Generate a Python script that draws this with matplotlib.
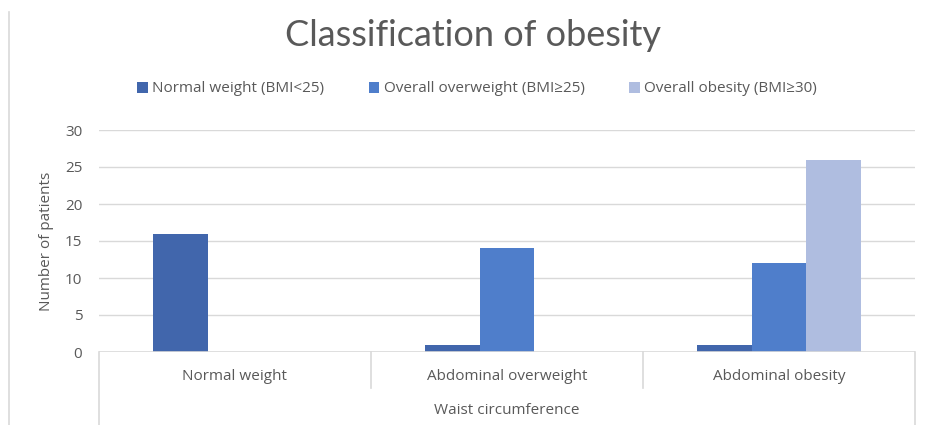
import numpy as np
import matplotlib.pyplot as plt

categories = ["Normal weight", "Abdominal overweight", "Abdominal obesity"]
series_names = ["Normal weight (BMI<25)", "Overall overweight (BMI\u226525)", "Overall obesity (BMI\u226530)"]
normal_bmi = [16, 1, 1]
overweight_bmi = [0, 14, 12]
obesity_bmi = [0, 0, 26]
colors = ["#4166AC", "#4F7ECB", "#AFBDE0"]

W, H = 929, 425
fig = plt.figure(figsize=(W / 100, H / 100), dpi=100)
plt.rcParams["font.family"] = ["Open Sans", "DejaVu Sans"]

x0, x1, y0, y1 = 99, 915, 352, 130
ax = fig.add_axes([x0 / W, 1 - y0 / H, (x1 - x0) / W, (y0 - y1) / H])

x = np.arange(len(categories))
width = 0.2
values = [normal_bmi, overweight_bmi, obesity_bmi]
for i, (vals, name, c) in enumerate(zip(values, series_names, colors)):
    ax.bar(x + (i - 1) * width, vals, width, color=c, label=name, zorder=3)

ax.set_xlim(-0.5, 2.5)
ax.set_ylim(0, 30)
ax.set_yticks(range(0, 31, 5))
ax.set_xticks([])
for s in ax.spines.values():
    s.set_visible(False)
ax.tick_params(axis="y", length=0, pad=12, labelsize=11, labelcolor="#595959")
for v in range(5, 31, 5):
    ax.axhline(v, color="#D9D9D9", lw=1, zorder=1)
ax.axhline(0, color="#D9D9D9", lw=1.2, zorder=4)
ax.set_ylabel("Number of patients", fontsize=11, color="#595959", labelpad=8)

# multi-level category axis
tr = ax.get_xaxis_transform()
ah = y0 - y1
for xs in [-0.5, 2.5]:
    ax.plot([xs, xs], [0, -(H - y0) / ah], transform=tr, color="#D9D9D9", lw=1.2, clip_on=False)
for xs in [0.5, 1.5]:
    ax.plot([xs, xs], [0, -36 / ah], transform=tr, color="#D9D9D9", lw=1.2, clip_on=False)
for xi, cat in zip(x, categories):
    ax.text(xi, -25 / ah, cat, transform=tr, ha="center", va="center", fontsize=11, color="#595959")
ax.text(1, -59 / ah, "Waist circumference", transform=tr, ha="center", va="center", fontsize=11, color="#595959")

# chart border on the left
fig.add_artist(plt.Line2D([9 / W, 9 / W], [0, 1 - 12 / H], color="#D9D9D9", lw=1.2))

fig.text(473 / W, 1 - 36 / H, "Classification of obesity", ha="center", va="center",
         fontsize=26, color="#595959", family=["Lato", "DejaVu Sans"], fontweight="normal")

fig.legend(loc="center", bbox_to_anchor=(477 / W, 1 - 89 / H), ncol=3, frameon=False,
           fontsize=11, labelcolor="#595959", handlelength=0.7, handleheight=0.7,
           handletextpad=0.3, columnspacing=2.9)

fig.savefig("out.png", dpi=100)
